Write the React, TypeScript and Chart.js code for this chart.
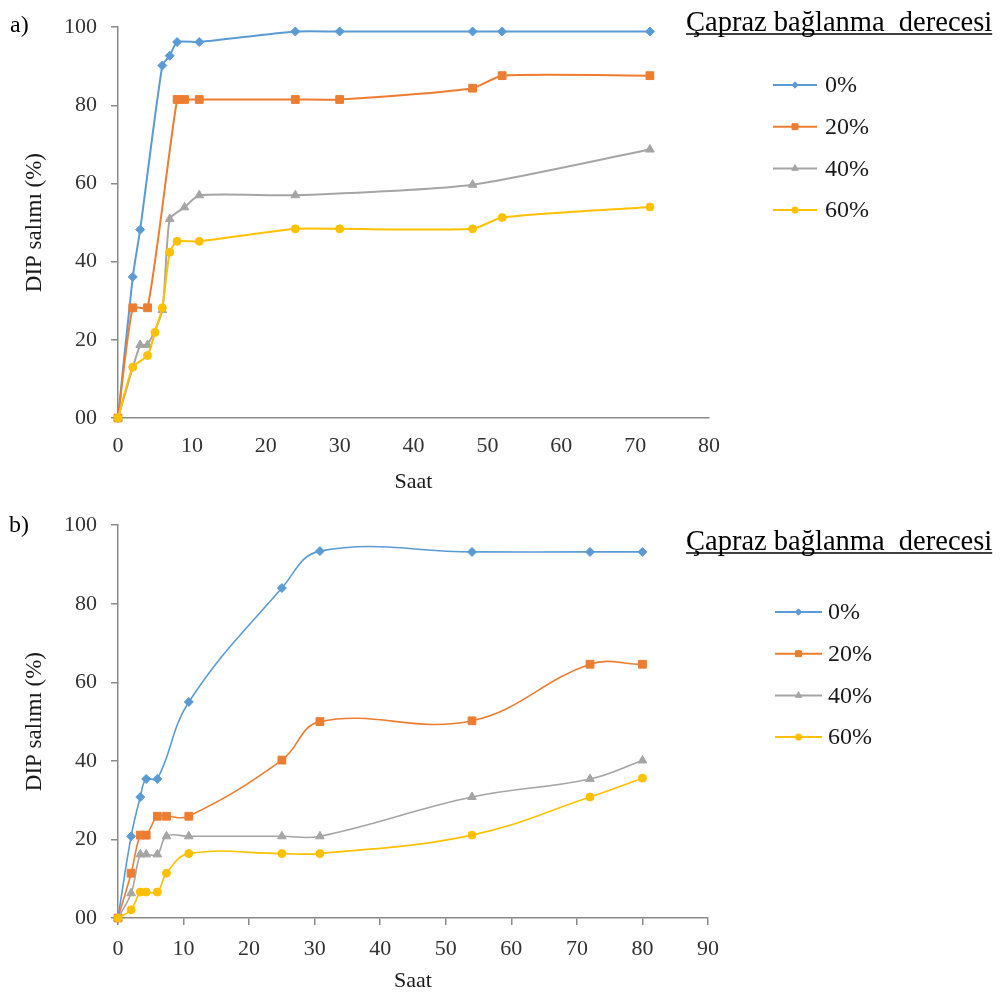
import React, { useEffect, useRef } from "react";
import { Chart, registerables } from "chart.js";
import { drawPoint } from "chart.js/helpers";

Chart.register(...registerables);

const FONT = "'Liberation Serif', 'Times New Roman', serif";

// ---- shared labels / styles ----
const seriesLabels = ["0%", "20%", "40%", "60%"];
const seriesColors = ["#5B9BD5", "#ED7D31", "#A5A5A5", "#FFC000"];
const seriesMarkers = ["rectRot", "rect", "triangle", "circle"];
const markerRadius = [4.5, 5.5, 5, 4];
const legendMarkerRadius = [3.2, 4.2, 3.8, 3.2];
const legendTitle = "Çapraz bağlanma  derecesi";
const xTitle = "Saat";
const yTitle = "DIP salımı (%)";
const yTickLabels = ["00", "20", "40", "60", "80", "100"];

// ---- panel a ----
const hoursA0 = [0, 2, 3, 6, 7, 8, 11, 24, 30, 48, 52, 72];
const releaseA0 = [0, 36.1, 48.2, 90.2, 92.7, 96.2, 96.2, 98.9, 98.9, 98.9, 98.9, 98.9];
const hoursA20 = [0, 2, 4, 8, 9, 11, 24, 30, 48, 52, 72];
const releaseA20 = [0, 28.2, 28.2, 81.5, 81.5, 81.5, 81.5, 81.5, 84.4, 87.6, 87.6];
const hoursA40 = [0, 3, 4, 6, 7, 9, 11, 24, 48, 72];
const releaseA40 = [0, 18.7, 18.7, 27.6, 50.9, 53.9, 57, 57, 59.7, 68.7];
const hoursA60 = [0, 2, 4, 5, 6, 7, 8, 11, 24, 30, 48, 52, 72];
const releaseA60 = [0, 13, 16, 21.9, 28.2, 42.4, 45.2, 45.2, 48.4, 48.4, 48.4, 51.3, 54];

// ---- panel b ----
const hoursB0 = [0, 2, 3.4, 4.3, 6, 10.8, 25, 30.8, 54, 72, 80];
const releaseB0 = [0, 20.8, 30.8, 35.4, 35.4, 55, 84, 93.4, 93.2, 93.2, 93.2];
const hoursB20 = [0, 2, 3.4, 4.3, 6, 7.4, 10.8, 25, 30.8, 54, 72, 80];
const releaseB20 = [0, 11.4, 21.1, 21.1, 25.9, 25.9, 25.9, 40.2, 50, 50.2, 64.6, 64.6];
const hoursB40 = [0, 2, 3.4, 4.3, 6, 7.4, 10.8, 25, 30.8, 54, 72, 80];
const releaseB40 = [0, 6.3, 16.2, 16.2, 16.2, 20.8, 20.8, 20.8, 20.8, 30.8, 35.4, 40.1];
const hoursB60 = [0, 2, 3.4, 4.3, 6, 7.4, 10.8, 25, 30.8, 54, 72, 80];
const releaseB60 = [0, 2.1, 6.6, 6.6, 6.6, 11.4, 16.4, 16.4, 16.4, 21.1, 30.8, 35.6];

const AXIS_COLOR = "#8a8a8a";
const TEXT_COLOR = "#333333";
const CANVAS_W = 1001;
const CANVAS_H = 498;

type PanelSpec = {
  xs: number[][];
  ys: number[][];
  xMax: number;
  tension: number;
  lineWidth: number;
  plotTop: number;
  plotRight: number;
  plotBottom: number;
  xTickMarks: boolean;
  xTickPadding: number;
  xTitlePad: number;
  decor: any;
};

const panelA: PanelSpec = {
  xs: [hoursA0, hoursA20, hoursA40, hoursA60],
  ys: [releaseA0, releaseA20, releaseA40, releaseA60],
  xMax: 80,
  tension: 0.2,
  lineWidth: 2,
  plotTop: 21,
  plotRight: 709,
  plotBottom: 418,
  xTickMarks: false,
  xTickPadding: 15,
  xTitlePad: 3,
  decor: {
    panelLabel: "a)", labelX: 10, labelY: 32,
    titleX: 686, titleY: 31, underlineY: 34,
    itemY0: 85, itemGap: 41.7, lineX0: 773, lineX1: 817, textX: 825,
  },
};

const panelB: PanelSpec = {
  xs: [hoursB0, hoursB20, hoursB40, hoursB60],
  ys: [releaseB0, releaseB20, releaseB40, releaseB60],
  xMax: 90,
  tension: 0.4,
  lineWidth: 1.6,
  plotTop: 25,
  plotRight: 708,
  plotBottom: 420,
  xTickMarks: true,
  xTickPadding: 11,
  xTitlePad: 2,
  decor: {
    panelLabel: "b)", labelX: 9, labelY: 34,
    titleX: 686, titleY: 52, underlineY: 55,
    itemY0: 114, itemGap: 41.7, lineX0: 775, lineX1: 822, textX: 828,
  },
};

const decorPlugin = {
  id: "panelDecor",
  afterDraw(chart: any, _args: any, opts: any) {
    const ctx = chart.ctx as CanvasRenderingContext2D;
    ctx.save();
    ctx.textAlign = "left";
    ctx.textBaseline = "alphabetic";
    ctx.fillStyle = "#000";
    ctx.font = `24px ${FONT}`;
    ctx.fillText(opts.panelLabel, opts.labelX, opts.labelY);

    ctx.font = `28.5px ${FONT}`;
    ctx.fillText(legendTitle, opts.titleX, opts.titleY);
    const w = ctx.measureText(legendTitle).width;
    ctx.strokeStyle = "#000";
    ctx.lineWidth = 1.3;
    ctx.beginPath();
    ctx.moveTo(opts.titleX, opts.underlineY);
    ctx.lineTo(opts.titleX + w, opts.underlineY);
    ctx.stroke();

    chart.data.datasets.forEach((ds: any, i: number) => {
      const y = opts.itemY0 + i * opts.itemGap;
      ctx.strokeStyle = ds.borderColor;
      ctx.lineWidth = 2;
      ctx.beginPath();
      ctx.moveTo(opts.lineX0, y);
      ctx.lineTo(opts.lineX1, y);
      ctx.stroke();
      ctx.fillStyle = ds.backgroundColor;
      ctx.lineWidth = 1;
      drawPoint(
        ctx,
        { pointStyle: ds.pointStyle, radius: legendMarkerRadius[i], rotation: 0, borderWidth: 1 } as any,
        (opts.lineX0 + opts.lineX1) / 2,
        y
      );
      ctx.fillStyle = "#1a1a1a";
      ctx.font = `24px ${FONT}`;
      ctx.textBaseline = "middle";
      ctx.fillText(ds.label, opts.textX, y + 1);
      ctx.textBaseline = "alphabetic";
    });
    ctx.restore();
  },
};

function buildConfig(p: PanelSpec): any {
  const datasets = p.xs.map((xs, i) => ({
    label: seriesLabels[i],
    data: xs.map((x, j) => ({ x, y: p.ys[i][j] })),
    borderColor: seriesColors[i],
    backgroundColor: seriesColors[i],
    pointBackgroundColor: seriesColors[i],
    pointBorderColor: seriesColors[i],
    pointStyle: seriesMarkers[i],
    pointRadius: markerRadius[i],
    pointBorderWidth: 1,
    borderWidth: p.lineWidth,
    tension: p.tension,
    fill: false,
    clip: false,
    order: 3 - i,
  }));
  const xAxisH = CANVAS_H - p.plotBottom;
  return {
    type: "line",
    data: { datasets },
    options: {
      responsive: false,
      animation: false,
      events: [],
      layout: { padding: { left: 0, top: p.plotTop, right: CANVAS_W - p.plotRight, bottom: 0 } },
      plugins: {
        legend: { display: false },
        tooltip: { enabled: false },
        panelDecor: p.decor,
      },
      scales: {
        x: {
          type: "linear",
          min: 0,
          max: p.xMax,
          ticks: {
            stepSize: 10,
            autoSkip: false,
            maxRotation: 0,
            padding: p.xTickPadding,
            color: TEXT_COLOR,
            font: { family: FONT, size: 22 },
          },
          grid: {
            display: true,
            drawOnChartArea: false,
            drawTicks: p.xTickMarks,
            tickLength: 7,
            color: AXIS_COLOR,
            lineWidth: 1.5,
          },
          border: { display: true, color: AXIS_COLOR, width: 1.5 },
          title: {
            display: true,
            text: xTitle,
            color: "#1a1a1a",
            font: { family: FONT, size: 22 },
            padding: { top: 0, bottom: p.xTitlePad },
          },
          afterFit: (s: any) => {
            s.height = xAxisH;
          },
        },
        y: {
          type: "linear",
          min: 0,
          max: 100,
          ticks: {
            stepSize: 20,
            padding: 14,
            color: TEXT_COLOR,
            font: { family: FONT, size: 22 },
            callback: (_v: any, idx: number) => yTickLabels[idx],
          },
          grid: {
            display: true,
            drawOnChartArea: false,
            drawTicks: true,
            tickLength: 7,
            color: AXIS_COLOR,
            lineWidth: 1.5,
          },
          border: { display: true, color: AXIS_COLOR, width: 1.5 },
          title: {
            display: true,
            text: yTitle,
            color: "#1a1a1a",
            font: { family: FONT, size: 23 },
            padding: { top: 21, bottom: 0 },
          },
          afterFit: (s: any) => {
            s.width = 118;
          },
        },
      },
    },
    plugins: [decorPlugin],
  };
}

function Panel({ spec, top }: { spec: PanelSpec; top: number }) {
  const ref = useRef<HTMLCanvasElement | null>(null);
  useEffect(() => {
    if (!ref.current) return;
    const chart = new Chart(ref.current, buildConfig(spec));
    return () => chart.destroy();
  }, [spec]);
  return (
    <canvas
      ref={ref}
      width={CANVAS_W}
      height={CANVAS_H}
      style={{ position: "absolute", left: 0, top, width: CANVAS_W, height: CANVAS_H, display: "block" }}
    />
  );
}

export default function App() {
  return (
    <div style={{ position: "absolute", left: 0, top: 0, width: CANVAS_W, height: 996, background: "#fff", overflow: "hidden" }}>
      <Panel spec={panelA} top={0} />
      <Panel spec={panelB} top={CANVAS_H} />
    </div>
  );
}
